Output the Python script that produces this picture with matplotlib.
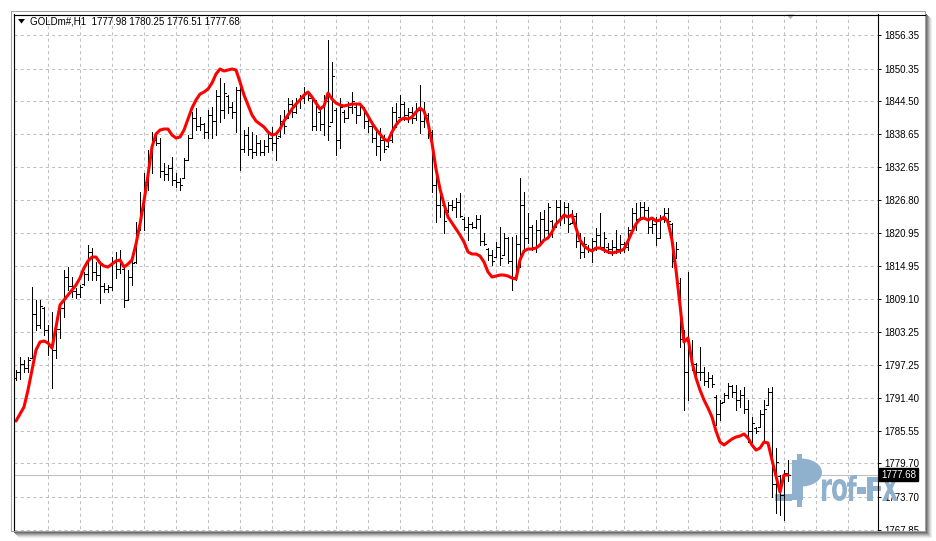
import numpy as np
import matplotlib
matplotlib.use('Agg')
import matplotlib.pyplot as plt
from matplotlib.patches import Rectangle, Polygon, PathPatch
from matplotlib.textpath import TextPath
from matplotlib.font_manager import FontProperties
from matplotlib.transforms import Affine2D
from matplotlib.lines import Line2D

plt.rcParams['font.family'] = ['Liberation Sans', 'DejaVu Sans']

# ---------------- data ----------------
symbol = 'GOLDm#,H1'
last_ohlc = [1777.98, 1780.25, 1776.51, 1777.68]
bid = 1777.68
price_ticks = [1856.35, 1850.35, 1844.50, 1838.65, 1832.65, 1826.80, 1820.95,
               1814.95, 1809.10, 1803.25, 1797.25, 1791.40, 1785.55, 1779.70,
               1773.70, 1767.85]

highs = [
 1796.42, 1798.74, 1798.21, 1798.74, 1811.27, 1808.94, 1808.94, 1807.69, 1804.47, 1806.79,
 1805.72, 1808.40, 1814.31, 1814.84, 1813.05, 1811.09, 1811.62, 1813.95, 1818.78, 1818.24,
 1815.74, 1815.20, 1811.98, 1811.62, 1816.63, 1817.53, 1817.88, 1814.84, 1814.31, 1816.45,
 1822.89, 1828.26, 1831.66, 1835.77, 1839.00, 1838.46, 1837.92, 1833.45, 1833.09, 1834.52,
 1831.66, 1830.77, 1834.34, 1838.46, 1842.57, 1843.29, 1841.68, 1840.61, 1842.93, 1843.47,
 1846.51, 1848.66, 1847.76, 1845.61, 1844.36, 1847.05, 1847.40, 1839.35, 1839.89, 1839.00,
 1838.46, 1837.56, 1837.56, 1839.00, 1839.89, 1838.46, 1842.04, 1842.93, 1845.08, 1844.72,
 1845.08, 1845.61, 1847.05, 1846.15, 1845.08, 1844.72, 1842.93, 1845.61, 1855.45, 1851.52,
 1843.29, 1845.08, 1842.93, 1844.36, 1846.15, 1843.83, 1844.18, 1843.47, 1842.04, 1840.25,
 1839.71, 1839.71, 1838.46, 1837.92, 1843.47, 1844.18, 1845.61, 1844.36, 1843.29, 1843.47,
 1844.18, 1847.40, 1844.36, 1842.39, 1839.35, 1831.66, 1829.16, 1826.29, 1826.47, 1826.83,
 1827.19, 1828.08, 1823.79, 1823.79, 1822.89, 1824.15, 1824.15, 1820.93, 1818.24, 1817.89,
 1819.32, 1822.00, 1820.93, 1820.21, 1820.21, 1820.57, 1830.77, 1828.26, 1824.50, 1822.36,
 1823.25, 1824.68, 1825.04, 1826.29, 1823.25, 1826.83, 1826.83, 1826.47, 1826.29, 1825.04,
 1824.50, 1820.93, 1820.21, 1818.78, 1820.03, 1821.82, 1824.50, 1821.11, 1819.14, 1819.67,
 1821.46, 1820.57, 1819.32, 1822.00, 1825.40, 1826.29, 1826.47, 1826.47, 1825.58, 1823.25,
 1823.79, 1824.15, 1825.40, 1825.40, 1822.72, 1819.32, 1812.88, 1803.50, 1813.95, 1801.79,
 1797.67, 1800.53, 1796.95, 1796.06, 1795.52, 1791.94, 1791.05, 1792.30, 1794.09, 1793.73,
 1793.73, 1792.84, 1793.38, 1791.05, 1788.01, 1786.22, 1789.26, 1791.05, 1793.20, 1793.38,
 1782.46, 1777.63, 1778.53, 1780.25]

lows = [
 1794.63, 1794.81, 1796.06, 1796.06, 1798.56, 1803.57, 1803.93, 1802.68, 1799.10, 1793.20,
 1798.56, 1802.14, 1805.90, 1810.73, 1809.48, 1809.30, 1809.48, 1811.62, 1812.52, 1812.52,
 1812.52, 1808.40, 1810.37, 1810.37, 1810.73, 1812.88, 1813.77, 1807.69, 1808.94, 1811.62,
 1815.56, 1821.46, 1821.46, 1828.62, 1831.66, 1836.67, 1830.94, 1830.41, 1830.41, 1829.51,
 1829.16, 1828.62, 1830.77, 1833.99, 1837.92, 1839.35, 1839.35, 1837.92, 1837.92, 1837.92,
 1838.46, 1840.78, 1841.50, 1842.39, 1841.50, 1839.00, 1832.20, 1835.42, 1834.88, 1834.34,
 1834.88, 1834.88, 1834.88, 1835.42, 1835.77, 1833.99, 1838.10, 1838.82, 1841.50, 1841.68,
 1842.39, 1843.29, 1844.18, 1844.72, 1839.35, 1839.35, 1839.35, 1838.46, 1837.56, 1840.78,
 1834.88, 1836.13, 1840.78, 1841.50, 1842.39, 1840.61, 1842.04, 1839.71, 1839.00, 1837.21,
 1834.88, 1833.99, 1835.42, 1836.31, 1837.21, 1839.89, 1841.68, 1841.14, 1840.78, 1840.61,
 1841.14, 1838.82, 1839.89, 1837.92, 1828.26, 1822.89, 1823.79, 1820.93, 1824.68, 1825.04,
 1823.79, 1823.79, 1821.46, 1819.68, 1821.82, 1821.82, 1818.78, 1818.78, 1816.10, 1815.20,
 1816.63, 1815.20, 1816.99, 1815.56, 1810.73, 1812.52, 1814.84, 1817.53, 1819.14, 1817.89,
 1817.53, 1818.78, 1820.21, 1820.21, 1820.21, 1822.00, 1822.36, 1822.72, 1821.11, 1822.72,
 1818.42, 1816.45, 1816.63, 1817.53, 1815.74, 1817.89, 1818.24, 1817.53, 1817.35, 1816.99,
 1817.35, 1817.35, 1817.53, 1817.89, 1820.93, 1821.46, 1823.25, 1823.61, 1820.93, 1820.93,
 1818.78, 1820.03, 1822.89, 1821.82, 1814.84, 1816.45, 1800.50, 1789.26, 1791.05, 1796.42,
 1795.52, 1794.63, 1793.73, 1793.38, 1793.38, 1786.58, 1787.48, 1790.69, 1791.41, 1791.59,
 1789.26, 1789.80, 1788.72, 1783.54, 1783.54, 1785.15, 1786.22, 1783.89, 1790.16, 1773.70,
 1770.83, 1770.48, 1769.58, 1776.51]

opens = [
 1795.0, 1796.0, 1797.5, 1796.8, 1798.6, 1806.5, 1804.5, 1807.5, 1803.5, 1801.0,
 1800.0, 1803.8, 1807.5, 1813.0, 1811.5, 1810.5, 1810.0, 1811.8, 1813.6, 1817.5,
 1814.0, 1813.5, 1811.5, 1811.0, 1811.2, 1815.8, 1814.5, 1814.5, 1809.0, 1813.0,
 1815.8, 1821.5, 1825.0, 1830.0, 1834.5, 1837.5, 1837.0, 1832.0, 1831.5, 1832.5,
 1830.5, 1830.0, 1830.8, 1834.0, 1838.0, 1841.5, 1840.0, 1840.5, 1839.0, 1842.0,
 1841.0, 1845.5, 1843.0, 1845.5, 1843.5, 1842.5, 1846.5, 1836.0, 1838.5, 1836.0,
 1835.5, 1837.0, 1835.5, 1836.5, 1838.0, 1837.0, 1838.2, 1841.0, 1841.5, 1844.0,
 1842.5, 1844.5, 1845.0, 1846.0, 1845.0, 1840.0, 1842.5, 1840.5, 1844.5, 1840.8,
 1843.0, 1837.5, 1842.5, 1841.5, 1843.5, 1843.5, 1842.0, 1843.5, 1841.0, 1840.0,
 1838.0, 1836.5, 1837.5, 1836.5, 1837.5, 1842.5, 1841.7, 1844.0, 1842.0, 1842.5,
 1841.5, 1843.0, 1841.0, 1842.0, 1839.0, 1829.5, 1826.0, 1826.0, 1825.0, 1826.0,
 1825.5, 1826.5, 1823.5, 1822.0, 1822.5, 1822.0, 1823.5, 1819.5, 1818.0, 1817.0,
 1816.7, 1818.5, 1817.0, 1820.0, 1816.0, 1813.0, 1819.0, 1826.0, 1820.0, 1822.0,
 1818.5, 1821.5, 1823.5, 1821.5, 1823.0, 1822.0, 1825.5, 1824.0, 1825.5, 1822.8,
 1824.0, 1819.5, 1817.5, 1818.5, 1818.0, 1819.5, 1820.5, 1818.5, 1818.5, 1818.0,
 1818.5, 1818.0, 1819.0, 1818.5, 1821.5, 1824.5, 1823.5, 1825.5, 1825.0, 1822.0,
 1822.5, 1820.0, 1823.5, 1824.5, 1822.5, 1816.5, 1812.0, 1802.0, 1796.0, 1799.5,
 1797.5, 1796.0, 1796.0, 1794.5, 1795.0, 1791.5, 1788.5, 1790.7, 1792.0, 1793.5,
 1792.5, 1791.0, 1792.0, 1789.5, 1785.5, 1786.0, 1786.3, 1788.5, 1790.2, 1792.5,
 1776.0, 1777.5, 1774.0, 1777.98]

closes = [
 1796.0, 1797.5, 1796.8, 1798.2, 1806.5, 1804.5, 1807.8, 1803.5, 1801.0, 1800.0,
 1803.8, 1807.5, 1813.0, 1811.5, 1810.5, 1810.0, 1811.3, 1813.6, 1817.5, 1814.0,
 1813.5, 1811.5, 1811.0, 1811.2, 1815.8, 1814.5, 1815.5, 1809.0, 1813.0, 1815.5,
 1821.5, 1825.0, 1830.0, 1834.5, 1837.5, 1837.0, 1832.0, 1831.5, 1832.5, 1830.5,
 1830.0, 1829.5, 1834.0, 1838.0, 1841.5, 1840.0, 1840.5, 1839.0, 1842.0, 1841.0,
 1845.5, 1843.0, 1846.0, 1843.5, 1842.5, 1846.5, 1836.0, 1838.5, 1836.0, 1835.5,
 1837.0, 1835.5, 1836.5, 1838.0, 1837.0, 1838.0, 1841.0, 1840.0, 1844.0, 1842.5,
 1844.5, 1845.0, 1846.0, 1845.0, 1840.0, 1843.5, 1840.5, 1844.5, 1840.0, 1849.0,
 1837.5, 1843.5, 1841.5, 1843.5, 1844.5, 1842.0, 1843.5, 1841.0, 1840.0, 1838.0,
 1836.5, 1837.5, 1836.0, 1837.5, 1842.5, 1841.0, 1844.0, 1842.0, 1842.5, 1841.5,
 1843.0, 1841.0, 1842.0, 1839.0, 1829.5, 1826.0, 1827.5, 1823.0, 1826.0, 1825.5,
 1826.5, 1824.0, 1822.0, 1822.5, 1822.0, 1823.5, 1819.5, 1819.0, 1817.0, 1816.0,
 1818.5, 1816.5, 1820.0, 1816.0, 1813.0, 1819.0, 1826.0, 1820.0, 1822.0, 1818.5,
 1821.5, 1823.5, 1821.5, 1825.5, 1822.0, 1825.5, 1824.0, 1825.5, 1822.5, 1824.0,
 1819.5, 1817.5, 1819.0, 1818.0, 1819.5, 1820.5, 1818.5, 1820.0, 1818.0, 1818.5,
 1818.0, 1819.0, 1818.5, 1821.5, 1824.5, 1823.5, 1825.5, 1825.0, 1822.0, 1822.5,
 1820.0, 1823.5, 1824.5, 1823.0, 1816.0, 1818.0, 1802.0, 1796.0, 1799.5, 1797.5,
 1796.0, 1796.0, 1794.5, 1795.0, 1794.0, 1788.5, 1790.5, 1792.0, 1793.5, 1792.5,
 1791.0, 1792.0, 1789.5, 1785.5, 1787.0, 1785.5, 1788.5, 1789.5, 1792.5, 1776.0,
 1780.0, 1774.0, 1778.0, 1777.68]

ma = [
 1787.29, 1788.55, 1789.80, 1792.84, 1796.42, 1799.99, 1801.43, 1801.61, 1801.25, 1800.35,
 1804.11, 1808.05, 1808.94, 1809.83, 1810.73, 1811.62, 1812.88, 1814.66, 1815.92, 1816.63,
 1816.63, 1815.56, 1815.02, 1814.84, 1815.38, 1815.92, 1816.10, 1814.84, 1815.38, 1816.10,
 1818.96, 1822.54, 1826.65, 1831.30, 1836.31, 1838.64, 1839.35, 1839.53, 1839.53, 1838.46,
 1837.92, 1838.10, 1839.35, 1841.32, 1843.29, 1844.72, 1845.79, 1846.15, 1846.69, 1847.76,
 1849.37, 1850.27, 1849.91, 1850.09, 1850.27, 1850.09, 1847.94, 1845.61, 1843.83, 1842.04,
 1840.96, 1840.43, 1839.89, 1839.00, 1838.46, 1838.64, 1839.53, 1840.96, 1842.04, 1843.11,
 1844.00, 1844.72, 1845.61, 1846.15, 1845.26, 1844.18, 1843.11, 1843.65, 1845.97, 1844.90,
 1844.18, 1843.83, 1843.65, 1843.83, 1844.00, 1844.00, 1844.00, 1843.11, 1841.86, 1840.61,
 1839.53, 1838.64, 1837.74, 1837.39, 1839.00, 1840.25, 1841.14, 1841.50, 1841.32, 1841.68,
 1842.57, 1843.29, 1842.75, 1840.61, 1837.03, 1832.38, 1828.80, 1826.11, 1823.79, 1822.72,
 1821.64, 1820.57, 1819.32, 1817.53, 1817.17, 1817.17, 1816.81, 1815.74, 1813.95, 1813.05,
 1813.23, 1813.41, 1813.41, 1813.23, 1812.88, 1812.70, 1816.10, 1817.71, 1818.06, 1818.06,
 1818.24, 1818.78, 1819.67, 1820.03, 1821.11, 1822.54, 1823.25, 1824.15, 1823.79, 1824.15,
 1821.82, 1819.67, 1818.60, 1818.06, 1817.71, 1818.24, 1818.24, 1817.88, 1817.53, 1817.35,
 1817.53, 1817.71, 1818.06, 1819.50, 1821.11, 1822.54, 1823.43, 1823.61, 1823.25, 1823.61,
 1823.07, 1823.25, 1823.79, 1822.89, 1819.67, 1814.31, 1808.05, 1801.43, 1802.14, 1797.85,
 1794.99, 1792.84, 1791.05, 1789.62, 1788.01, 1785.50, 1783.54, 1783.00, 1783.54, 1784.07,
 1784.43, 1784.61, 1784.97, 1784.25, 1783.00, 1782.10, 1782.46, 1783.54, 1783.36, 1780.32,
 1777.45, 1774.59, 1777.63, 1777.63]

# ---------------- figure ----------------
W, H = 937, 541
fig = plt.figure(figsize=(W / 100, H / 100), dpi=100)
fig.patch.set_facecolor('white')

# pixel (x right, y down) -> figure
T = Affine2D().scale(1.0 / W, -1.0 / H).translate(0, 1) + fig.transFigure

ax_l, ax_r, ax_t, ax_b = 14.5, 878.0, 14.5, 535.0
ax = fig.add_axes([ax_l / W, 1 - ax_b / H, (ax_r - ax_l) / W, (ax_b - ax_t) / H])
ax.set_facecolor('white')

idx = np.arange(len(closes))
ax.set_xlim((ax_l - 16) / 4.0, (ax_r - 16) / 4.0)
ax.set_ylim(1766.90, 1860.02)

# grid
ax.set_xticks(np.arange(7.9, 212, 8))
ax.set_yticks(price_ticks)
ax.set_yticklabels([f'{v:.2f}' for v in price_ticks])
ax.grid(True, color='#c0c0c0', linestyle=(0, (3, 3)), linewidth=0.75)
ax.set_axisbelow(True)
ax.tick_params(axis='x', length=0, labelbottom=False)
ax.yaxis.tick_right()
ax.tick_params(axis='y', direction='out', length=2.5, width=0.7, pad=2.2,
               labelsize=7, colors='black')
for s in ['left', 'top', 'right']:
    ax.spines[s].set_color('black')
    ax.spines[s].set_linewidth(0.8)
ax.spines['bottom'].set_visible(False)

# bid line
ax.axhline(bid, color='#c0c0c0', lw=0.8, zorder=0.9)

# watermark (Prof-FX)
wm_col = '#8fb1cd'
ax.add_patch(Rectangle((792, 460), 11, 40, transform=T, fc=wm_col, ec='none',
                       zorder=1, clip_on=False))
ax.add_patch(Rectangle((797.5, 454), 4.5, 53, transform=T, fc=wm_col, ec='none',
                       zorder=1, clip_on=False))
ax.add_patch(Rectangle((775, 494), 17, 7, transform=T, fc=wm_col, ec='none',
                       zorder=1, clip_on=False))
tt = np.linspace(-np.pi / 2, np.pi / 2, 40)
bowl = np.column_stack([801 + 21 * np.cos(tt), 472.5 + 14 * np.sin(tt)])
ax.add_patch(Polygon(bowl, closed=True, transform=T, fc=wm_col, ec='none',
                     zorder=1, clip_on=False))

wm_font = FontProperties(family='DejaVu Sans', weight='bold')
glyph_boxes = [('r', 822, 832, 479, 501), ('o', 832, 847, 479, 501),
               ('f', 847, 857, 475, 501), ('-', 857.5, 866.5, 487, 494),
               ('F', 867, 882, 477, 501), ('X', 882, 898, 477, 501)]
for ch, x0, x1, y0, y1 in glyph_boxes:
    tp = TextPath((0, 0), ch, size=1, prop=wm_font)
    bb = tp.get_extents()
    tr = (Affine2D().translate(-bb.x0, -bb.y0)
          .scale((x1 - x0) / bb.width, -(y1 - y0) / bb.height)
          .translate(x0, y1) + T)
    ax.add_patch(PathPatch(tp, transform=tr, fc=wm_col, ec='none', zorder=1,
                           clip_on=False))

# OHLC bars
bar_kw = dict(colors='black', lw=0.5, zorder=3, antialiased=False)
ax.vlines(idx, lows, highs, **bar_kw)
ax.hlines(opens, idx - 0.45, idx, **bar_kw)
ax.hlines(closes, idx, idx + 0.45, **bar_kw)

# moving average
ax.plot(idx, ma, color='#ff0000', lw=2.2, zorder=4,
        solid_joinstyle='round', solid_capstyle='round')

# current price label
ax.annotate(f'{bid:.2f}', xy=(1, bid), xycoords=('axes fraction', 'data'),
            xytext=(2.3, 0), textcoords='offset points', ha='left', va='center',
            fontsize=7, color='white', annotation_clip=False, zorder=6,
            bbox=dict(boxstyle='square,pad=0.18', fc='black', ec='black'))

# header
fig.text(30 / W, 1 - 21.5 / H, f'{symbol}  ' + ' '.join(f'{v:.2f}' for v in last_ohlc),
         fontsize=7, color='black', va='center', ha='left')
fig.add_artist(Polygon([[18, 19], [25, 19], [21.5, 23.5]], closed=True, transform=T,
                       fc='black', ec='none'))

# chart shift marker
fig.add_artist(Polygon([[786.5, 14.5], [794.5, 14.5], [790.5, 19]], closed=True,
                       transform=T, fc='#a8a8a8', ec='none', zorder=10))

# window frame, clipping bottom and shadow
fig.add_artist(Rectangle((0, 531), W, 10, transform=T, fc='white', ec='none', zorder=10))
fig.add_artist(Rectangle((926, 0), 11, H, transform=T, fc='white', ec='none', zorder=10))
shade = ['#6e6e6e', '#8a8a8a', '#a8a8a8', '#c4c4c4', '#dcdcdc', '#eeeeee']
for k, c in enumerate(shade):
    fig.add_artist(Line2D([926.5 + k, 926.5 + k], [14 + k, 531 + k], transform=T,
                          color=c, lw=0.75, zorder=11))
    fig.add_artist(Line2D([14 + k, 926.5 + k], [531.5 + k, 531.5 + k], transform=T,
                          color=c, lw=0.75, zorder=11))
fig.add_artist(Line2D([11, 925.5, 925.5], [11, 11, 531], transform=T,
                      color='#a0a0a0', lw=0.75, zorder=12))
fig.add_artist(Line2D([11, 11, 925.5], [11, 530.5, 530.5], transform=T,
                      color='#a0a0a0', lw=0.75, zorder=12))
fig.add_artist(Line2D([14.5, 925], [14.5, 14.5], transform=T,
                      color='black', lw=0.75, zorder=12))
fig.add_artist(Line2D([14.5, 14.5], [14.5, 530], transform=T,
                      color='black', lw=0.75, zorder=12))

fig.savefig('out.png', dpi=100, facecolor='white')
